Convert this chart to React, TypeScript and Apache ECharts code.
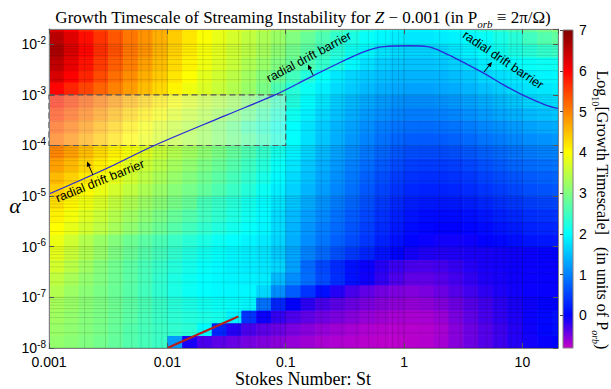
import React, { useEffect, useRef } from "react";
import * as echarts from "echarts";

// ---- axis extents ----
const ST_MIN = 0.001;
const ST_MAX = 20;
const ALPHA_MIN = 1e-8;
const ALPHA_MAX = 0.02;

// ---- field cell grid (log10 spacing) ----
const stLogCellStart = -3;
const stLogCellStep = 0.125;
const alphaLogCellStart = -8;
const alphaLogCellStep = 0.25;

// log10(growth timescale); rows bottom (alpha=1e-8) -> top
const growthRows: number[][] = [
  [3.15, 3.08, 3.0, 2.9, 2.78, 2.65, 2.55, 2.45, 1.2, -0.1, -0.3, -0.38, -0.43, -0.48, -0.52, -0.56, -0.6, -0.64, -0.68, -0.7, -0.72, -0.74, -0.75, -0.75, -0.74, -0.72, -0.66, -0.55, -0.45, -0.35, -0.25, -0.15, -0.08, -0.03, 0.0],
  [3.2, 3.12, 3.03, 2.93, 2.8, 2.66, 2.55, 2.46, 2.38, 2.32, 2.0, 0.3, -0.15, -0.3, -0.38, -0.44, -0.5, -0.55, -0.6, -0.64, -0.67, -0.7, -0.72, -0.73, -0.73, -0.72, -0.67, -0.55, -0.45, -0.35, -0.25, -0.15, -0.06, 0.04, 0.1],
  [3.25, 3.15, 3.05, 2.95, 2.83, 2.7, 2.56, 2.44, 2.34, 2.26, 2.2, 2.15, 1.9, 0.4, -0.05, -0.22, -0.32, -0.4, -0.46, -0.5, -0.55, -0.6, -0.64, -0.67, -0.68, -0.67, -0.62, -0.5, -0.4, -0.3, -0.2, -0.12, -0.04, 0.05, 0.12],
  [3.3, 3.2, 3.08, 2.98, 2.86, 2.72, 2.58, 2.44, 2.3, 2.2, 2.12, 2.06, 2.02, 1.95, 0.9, 0.3, 0.0, -0.18, -0.3, -0.38, -0.44, -0.5, -0.55, -0.58, -0.6, -0.58, -0.53, -0.45, -0.36, -0.27, -0.18, -0.1, -0.05, -0.01, 0.0],
  [3.4, 3.22, 3.08, 2.95, 2.82, 2.68, 2.52, 2.35, 2.2, 2.08, 2.0, 1.96, 1.95, 1.95, 1.7, 1.1, 0.72, 0.4, 0.1, -0.15, -0.3, -0.4, -0.47, -0.51, -0.53, -0.5, -0.44, -0.35, -0.27, -0.19, -0.12, -0.07, -0.04, -0.03, -0.03],
  [3.5, 3.32, 3.15, 3.0, 2.85, 2.7, 2.55, 2.38, 2.22, 2.1, 2.0, 1.95, 1.92, 1.9, 1.85, 1.45, 1.1, 0.85, 0.58, 0.35, 0.12, -0.06, -0.2, -0.32, -0.4, -0.4, -0.36, -0.28, -0.2, -0.13, -0.09, -0.06, -0.04, -0.03, -0.03],
  [3.65, 3.45, 3.25, 3.05, 2.88, 2.72, 2.56, 2.42, 2.28, 2.15, 2.04, 1.96, 1.9, 1.86, 1.82, 1.68, 1.25, 0.82, 0.55, 0.32, 0.12, -0.04, -0.15, -0.24, -0.3, -0.31, -0.28, -0.22, -0.15, -0.1, -0.07, -0.05, -0.04, -0.03, -0.03],
  [3.8, 3.58, 3.38, 3.18, 2.98, 2.82, 2.66, 2.52, 2.38, 2.24, 2.12, 2.02, 1.94, 1.88, 1.8, 1.6, 1.3, 1.02, 0.82, 0.62, 0.44, 0.28, 0.14, 0.02, -0.08, -0.13, -0.14, -0.13, -0.11, -0.1, -0.08, -0.06, -0.04, -0.02, 0.0],
  [3.85, 3.62, 3.4, 3.2, 3.02, 2.86, 2.72, 2.58, 2.45, 2.32, 2.2, 2.09, 2.0, 1.92, 1.84, 1.66, 1.36, 1.1, 0.92, 0.75, 0.58, 0.42, 0.26, 0.12, 0.02, -0.04, -0.07, -0.07, -0.05, -0.01, 0.05, 0.1, 0.15, 0.17, 0.18],
  [4.0, 3.82, 3.64, 3.47, 3.3, 3.13, 2.97, 2.82, 2.67, 2.52, 2.38, 2.25, 2.14, 2.04, 1.93, 1.72, 1.4, 1.16, 0.98, 0.82, 0.65, 0.48, 0.32, 0.18, 0.08, 0.02, 0.0, 0.0, 0.02, 0.07, 0.14, 0.2, 0.25, 0.28, 0.3],
  [4.1, 3.92, 3.74, 3.57, 3.41, 3.25, 3.1, 2.95, 2.8, 2.65, 2.5, 2.36, 2.24, 2.11, 1.96, 1.72, 1.45, 1.24, 1.06, 0.88, 0.7, 0.54, 0.38, 0.24, 0.14, 0.08, 0.06, 0.07, 0.1, 0.16, 0.24, 0.3, 0.35, 0.38, 0.4],
  [4.25, 4.07, 3.88, 3.7, 3.53, 3.37, 3.22, 3.08, 2.94, 2.8, 2.55, 2.42, 2.3, 2.15, 1.98, 1.8, 1.55, 1.34, 1.15, 0.97, 0.8, 0.62, 0.45, 0.31, 0.22, 0.18, 0.17, 0.19, 0.23, 0.3, 0.37, 0.43, 0.48, 0.52, 0.55],
  [4.4, 4.22, 4.02, 3.84, 3.66, 3.5, 3.35, 3.2, 3.06, 2.92, 2.77, 2.61, 2.45, 2.28, 2.08, 1.87, 1.64, 1.42, 1.23, 1.05, 0.86, 0.68, 0.52, 0.39, 0.3, 0.26, 0.26, 0.28, 0.33, 0.4, 0.47, 0.54, 0.6, 0.64, 0.67],
  [4.55, 4.37, 4.17, 3.98, 3.8, 3.63, 3.47, 3.32, 3.17, 3.02, 2.87, 2.71, 2.55, 2.38, 2.18, 1.96, 1.72, 1.5, 1.3, 1.12, 0.93, 0.76, 0.6, 0.47, 0.38, 0.35, 0.35, 0.38, 0.43, 0.5, 0.58, 0.65, 0.7, 0.75, 0.78],
  [4.75, 4.56, 4.35, 4.14, 3.95, 3.77, 3.6, 3.44, 3.28, 3.13, 2.98, 2.82, 2.65, 2.47, 2.28, 2.05, 1.8, 1.56, 1.36, 1.18, 1.0, 0.84, 0.69, 0.57, 0.48, 0.45, 0.45, 0.48, 0.54, 0.62, 0.7, 0.78, 0.83, 0.87, 0.9],
  [4.95, 4.75, 4.52, 4.3, 4.1, 3.92, 3.74, 3.56, 3.4, 3.26, 3.12, 2.95, 2.78, 2.6, 2.4, 2.15, 1.9, 1.66, 1.45, 1.27, 1.1, 0.94, 0.8, 0.68, 0.6, 0.58, 0.58, 0.62, 0.68, 0.75, 0.82, 0.9, 0.95, 1.0, 1.02],
  [5.1, 4.9, 4.66, 4.44, 4.22, 4.03, 3.85, 3.67, 3.52, 3.38, 3.24, 3.08, 2.9, 2.72, 2.52, 2.28, 2.02, 1.76, 1.55, 1.36, 1.18, 1.02, 0.89, 0.78, 0.72, 0.7, 0.72, 0.76, 0.82, 0.9, 0.98, 1.05, 1.1, 1.15, 1.18],
  [5.3, 5.08, 4.85, 4.6, 4.36, 4.14, 3.93, 3.73, 3.57, 3.42, 3.26, 3.06, 2.85, 2.6, 2.4, 2.2, 2.0, 1.78, 1.58, 1.4, 1.25, 1.1, 0.98, 0.9, 0.85, 0.84, 0.86, 0.9, 0.97, 1.05, 1.12, 1.2, 1.27, 1.32, 1.35],
  [5.52, 5.3, 5.07, 4.82, 4.58, 4.36, 4.15, 3.94, 3.74, 3.57, 3.42, 3.26, 3.06, 2.85, 2.6, 2.35, 2.1, 1.88, 1.68, 1.5, 1.35, 1.2, 1.1, 1.02, 0.98, 0.98, 1.0, 1.05, 1.12, 1.2, 1.3, 1.38, 1.45, 1.5, 1.55],
  [5.75, 5.52, 5.28, 5.04, 4.82, 4.6, 4.36, 4.14, 3.93, 3.73, 3.57, 3.42, 3.26, 3.05, 2.8, 2.5, 2.25, 2.0, 1.8, 1.6, 1.45, 1.32, 1.22, 1.15, 1.12, 1.12, 1.14, 1.2, 1.27, 1.35, 1.45, 1.55, 1.65, 1.72, 1.75],
  [5.98, 5.72, 5.47, 5.22, 4.99, 4.77, 4.52, 4.3, 4.08, 3.88, 3.72, 3.56, 3.4, 3.2, 2.95, 2.6, 2.3, 2.08, 1.88, 1.72, 1.58, 1.45, 1.36, 1.3, 1.27, 1.27, 1.3, 1.35, 1.42, 1.5, 1.6, 1.72, 1.78, 1.82, 1.85],
  [6.3, 6.0, 5.72, 5.42, 5.14, 4.9, 4.63, 4.41, 4.2, 3.99, 3.78, 3.62, 3.46, 3.26, 3.05, 2.8, 2.52, 2.27, 2.02, 1.82, 1.66, 1.55, 1.48, 1.42, 1.4, 1.4, 1.42, 1.48, 1.55, 1.68, 1.75, 1.82, 1.88, 1.92, 1.95],
  [6.5, 6.18, 5.85, 5.55, 5.27, 5.02, 4.75, 4.52, 4.3, 4.09, 3.88, 3.72, 3.56, 3.36, 3.2, 3.0, 2.8, 2.6, 2.4, 2.2, 1.95, 1.75, 1.62, 1.55, 1.52, 1.52, 1.55, 1.62, 1.72, 1.85, 1.95, 2.0, 2.05, 2.08, 2.1],
  [6.65, 6.3, 5.95, 5.63, 5.37, 5.08, 4.85, 4.58, 4.36, 4.15, 3.93, 3.77, 3.61, 3.46, 3.3, 3.1, 2.9, 2.7, 2.5, 2.3, 2.1, 1.95, 1.8, 1.7, 1.65, 1.65, 1.7, 1.8, 1.9, 2.0, 2.1, 2.2, 2.3, 2.4, 2.45],
  [6.55, 6.25, 5.9, 5.6, 5.33, 5.08, 4.85, 4.62, 4.4, 4.19, 3.98, 3.82, 3.66, 3.5, 3.35, 3.2, 3.0, 2.8, 2.6, 2.4, 2.2, 2.05, 1.95, 1.85, 1.82, 1.82, 1.85, 1.9, 1.98, 2.05, 2.18, 2.3, 2.5, 2.65, 2.75],
  [6.3, 6.05, 5.75, 5.5, 5.27, 5.06, 4.88, 4.66, 4.45, 4.23, 4.02, 3.86, 3.75, 3.6, 3.45, 3.3, 3.15, 3.0, 2.8, 2.6, 2.4, 2.2, 2.05, 1.95, 1.9, 1.9, 1.95, 2.05, 2.15, 2.25, 2.4, 2.55, 2.75, 2.9, 3.0],
];

// radial drift barrier (blue curve)
const barrierSt = [0.001, 0.00316, 0.00776, 0.0316, 0.0813, 0.126, 0.24, 0.457, 0.676, 1.12, 1.58, 2.19, 3.24, 4.79, 6.92, 10, 15.8, 20];
const barrierAlpha = [1.1e-5, 3.63e-5, 1.0e-4, 3.98e-4, 1.0e-3, 1.66e-3, 3.55e-3, 7.1e-3, 9.0e-3, 9.33e-3, 9.0e-3, 6.76e-3, 4.27e-3, 2.63e-3, 1.58e-3, 1.0e-3, 6.3e-4, 5.4e-4];

// red segment
const redSt = [0.01, 0.0398];
const redAlpha = [1e-8, 4.17e-8];

// dashed box
const boxSt = [0.001, 0.1];
const boxAlpha = [1e-4, 1e-3];

// colour map
const CB_MIN = -0.8;
const CB_MAX = 7;
const cmapValues = [-0.8, -0.4, 0, 1, 2, 3, 4, 5, 6, 7];
const cmapColors = ["#c800c8", "#6000e6", "#0000ff", "#0080ff", "#00ffff", "#80ff80", "#ffff00", "#ff8000", "#ff0000", "#800000"];

const SERIF = "'Liberation Serif', 'Times New Roman', serif";
const SANS = "'Liberation Sans', Arial, Helvetica, sans-serif";

function hexRgb(c: string) {
  return [parseInt(c.slice(1, 3), 16), parseInt(c.slice(3, 5), 16), parseInt(c.slice(5, 7), 16)];
}
function colorOf(v: number) {
  if (v <= cmapValues[0]) return cmapColors[0];
  const n = cmapValues.length;
  if (v >= cmapValues[n - 1]) return cmapColors[n - 1];
  for (let i = 0; i < n - 1; i++) {
    if (v >= cmapValues[i] && v <= cmapValues[i + 1]) {
      const t = (v - cmapValues[i]) / (cmapValues[i + 1] - cmapValues[i]);
      const a = hexRgb(cmapColors[i]);
      const b = hexRgb(cmapColors[i + 1]);
      const r = a.map((x, k) => Math.round(x + (b[k] - x) * t));
      return `rgb(${r[0]},${r[1]},${r[2]})`;
    }
  }
  return cmapColors[0];
}

function buildField() {
  const out: number[][] = [];
  growthRows.forEach((row, j) => {
    const y0 = Math.pow(10, alphaLogCellStart + j * alphaLogCellStep);
    const y1 = Math.min(Math.pow(10, alphaLogCellStart + (j + 1) * alphaLogCellStep), ALPHA_MAX);
    row.forEach((v, k) => {
      const x0 = Math.pow(10, stLogCellStart + k * stLogCellStep);
      const x1 = Math.min(Math.pow(10, stLogCellStart + (k + 1) * stLogCellStep), ST_MAX);
      if (x0 < ST_MAX && y0 < ALPHA_MAX) out.push([x0, x1, y0, y1, v]);
    });
  });
  return out;
}

function logGridValues(minExp: number, maxExp: number, maxVal: number) {
  const vals: number[] = [];
  for (let e = minExp; e <= maxExp; e++) {
    for (let m = 1; m <= 9; m++) {
      const v = m * Math.pow(10, e);
      if (v <= maxVal * 1.0001) vals.push(v);
    }
  }
  return vals;
}

function isMajor(v: number) {
  const l = Math.log10(v);
  return Math.abs(l - Math.round(l)) < 1e-6;
}

function arrow(x1: number, y1: number, x2: number, y2: number) {
  const dx = x2 - x1, dy = y2 - y1;
  const L = Math.hypot(dx, dy);
  const ux = dx / L, uy = dy / L;
  const hl = 5, hw = 2.3;
  const bx = x2 - ux * hl, by = y2 - uy * hl;
  return {
    type: "group",
    silent: true,
    z: 100,
    children: [
      { type: "line", z: 100, shape: { x1, y1, x2: bx, y2: by }, style: { stroke: "#000", lineWidth: 1 } },
      { type: "polygon", z: 100, shape: { points: [[x2, y2], [bx - uy * hw, by + ux * hw], [bx + uy * hw, by - ux * hw]] }, style: { fill: "#000" } },
    ],
  };
}

export default function App() {
  const ref = useRef<HTMLDivElement>(null);
  useEffect(() => {
    if (!ref.current) return;
    const chart = echarts.init(ref.current, undefined, { renderer: "svg" });

    const axisLineStyle = { color: "#808080", width: 1 };
    const mainX = {
      type: "log", logBase: 10, min: ST_MIN, max: ST_MAX, gridIndex: 0, z: 20,
      axisLine: { show: true, onZero: false, lineStyle: axisLineStyle },
      axisTick: { show: true, inside: true, length: 5, lineStyle: { color: "#555" } },
      splitLine: { show: false },
    };
    const mainY = {
      type: "log", logBase: 10, min: ALPHA_MIN, max: ALPHA_MAX, gridIndex: 0, z: 20,
      axisLine: { show: true, onZero: false, lineStyle: axisLineStyle },
      axisTick: { show: true, inside: true, length: 5, lineStyle: { color: "#555" } },
      splitLine: { show: false },
    };

    const stops = cmapValues.map((v, i) => ({ offset: (v - CB_MIN) / (CB_MAX - CB_MIN), color: cmapColors[i] }));

    const option: any = {
      animation: false,
      backgroundColor: "#ffffff",
      grid: [
        { left: 49, top: 29, width: 509, height: 319 },
        { left: 563, top: 30, width: 10, height: 318 },
      ],
      xAxis: [
        {
          ...mainX, position: "bottom",
          axisLabel: {
            show: true, fontSize: 14, color: "#000", fontFamily: SANS, margin: 7, showMaxLabel: false,
            formatter: (v: number) => {
              const e = Math.round(Math.log10(v));
              return e < 0 ? Math.pow(10, e).toFixed(-e) : String(Math.pow(10, e));
            },
          },
        },
        { ...mainX, position: "top", axisLabel: { show: false } },
        { type: "value", gridIndex: 1, min: 0, max: 1, show: false },
      ],
      yAxis: [
        {
          ...mainY, position: "left",
          axisLabel: {
            show: true, margin: 3, showMaxLabel: false,
            formatter: (v: number) => `{b|10}{s|${Math.round(Math.log10(v))}}`,
            rich: {
              b: { fontSize: 14, fontFamily: SANS, color: "#000", lineHeight: 18 },
              s: { fontSize: 10, fontFamily: SANS, color: "#000", verticalAlign: "top", lineHeight: 8 },
            },
          },
        },
        { ...mainY, position: "right", axisLabel: { show: false } },
        {
          type: "value", gridIndex: 1, min: CB_MIN, max: CB_MAX, splitNumber: 8, position: "right", z: 20,
          axisLine: { show: false },
          axisTick: { show: true, inside: true, length: 3, lineStyle: { color: "#444" } },
          axisLabel: { show: true, showMinLabel: false, fontSize: 14, color: "#000", fontFamily: SANS, margin: 6 },
          splitLine: { show: false },
        },
      ],
      series: [
        {
          name: "growth", type: "custom", xAxisIndex: 0, yAxisIndex: 0, z: 1, clip: true, silent: true,
          encode: { x: [0, 1], y: [2, 3] },
          data: buildField(),
          renderItem: (params: any, api: any) => {
            const p0 = api.coord([api.value(0), api.value(3)]);
            const p1 = api.coord([api.value(1), api.value(2)]);
            return {
              type: "rect",
              shape: { x: p0[0], y: p0[1], width: p1[0] - p0[0] + 0.6, height: p1[1] - p0[1] + 0.6 },
              style: { fill: colorOf(api.value(4)) },
            };
          },
        },
        {
          name: "vgrid", type: "custom", xAxisIndex: 0, yAxisIndex: 0, z: 2, silent: true,
          encode: { x: 0, y: 1 },
          data: logGridValues(-3, 1, ST_MAX).map((v) => [v, ALPHA_MIN]),
          renderItem: (params: any, api: any) => {
            const v = api.value(0);
            const p = api.coord([v, ALPHA_MIN]);
            const cs = params.coordSys;
            return {
              type: "line",
              shape: { x1: p[0], y1: cs.y, x2: p[0], y2: cs.y + cs.height },
              style: { stroke: isMajor(v) ? "rgba(0,0,0,0.2)" : "rgba(0,0,0,0.12)", lineWidth: 1 },
            };
          },
        },
        {
          name: "hgrid", type: "custom", xAxisIndex: 0, yAxisIndex: 0, z: 2, silent: true,
          encode: { x: 0, y: 1 },
          data: logGridValues(-8, -2, ALPHA_MAX).map((v) => [ST_MIN, v]),
          renderItem: (params: any, api: any) => {
            const v = api.value(1);
            const p = api.coord([ST_MIN, v]);
            const cs = params.coordSys;
            return {
              type: "line",
              shape: { x1: cs.x, y1: p[1], x2: cs.x + cs.width, y2: p[1] },
              style: { stroke: isMajor(v) ? "rgba(0,0,0,0.2)" : "rgba(0,0,0,0.12)", lineWidth: 1 },
            };
          },
        },
        {
          name: "box", type: "custom", xAxisIndex: 0, yAxisIndex: 0, z: 3, silent: true,
          encode: { x: [0, 1], y: [2, 3] },
          data: [[boxSt[0], boxSt[1], boxAlpha[0], boxAlpha[1]]],
          renderItem: (params: any, api: any) => {
            const p0 = api.coord([api.value(0), api.value(3)]);
            const p1 = api.coord([api.value(1), api.value(2)]);
            return {
              type: "rect",
              shape: { x: p0[0], y: p0[1], width: p1[0] - p0[0], height: p1[1] - p0[1] },
              style: { fill: "rgba(255,255,255,0.3)", stroke: "#555", lineWidth: 1.2, lineDash: [6, 3.5] },
            };
          },
        },
        {
          name: "radial drift barrier", type: "line", xAxisIndex: 0, yAxisIndex: 0, z: 5, silent: true,
          data: barrierSt.map((s, i) => [s, barrierAlpha[i]]),
          showSymbol: false, symbol: "none", smooth: 0.35,
          lineStyle: { color: "#2a2ad8", width: 1.3 },
        },
        {
          name: "red", type: "line", xAxisIndex: 0, yAxisIndex: 0, z: 5, silent: true,
          data: redSt.map((s, i) => [s, redAlpha[i]]),
          showSymbol: false, symbol: "none",
          lineStyle: { color: "#b81c1c", width: 2.2 },
        },
        {
          name: "colorbar", type: "custom", xAxisIndex: 2, yAxisIndex: 2, z: 1, silent: true,
          encode: { x: [0, 1], y: [2, 3] },
          data: [[0, 1, CB_MIN, CB_MAX]],
          renderItem: (params: any, api: any) => {
            const p0 = api.coord([api.value(0), api.value(3)]);
            const p1 = api.coord([api.value(1), api.value(2)]);
            return {
              type: "rect",
              shape: { x: p0[0], y: p0[1], width: p1[0] - p0[0], height: p1[1] - p0[1] },
              style: {
                fill: { type: "linear", x: 0, y: 1, x2: 0, y2: 0, colorStops: stops },
                stroke: "#808080", lineWidth: 1,
              },
            };
          },
        },
      ],
      graphic: [
        {
          type: "text", x: 303, y: 17, silent: true, z: 100,
          style: {
            text: "Growth Timescale of Streaming Instability for {i|Z} − 0.001 (in P{sub|orb} ≡ 2π/Ω)",
            align: "center", verticalAlign: "middle", fill: "#000",
            fontFamily: SERIF, fontSize: 17,
            rich: {
              i: { fontFamily: SERIF, fontSize: 17, fontStyle: "italic", fill: "#000" },
              sub: { fontFamily: SERIF, fontSize: 11, fontStyle: "italic", fill: "#000", verticalAlign: "bottom", lineHeight: 12, padding: [0, 0, -4, 0] },
            },
          },
        },
        {
          type: "text", x: 303, y: 379, silent: true, z: 100,
          style: { text: "Stokes Number: St", align: "center", verticalAlign: "middle", fill: "#000", fontFamily: SERIF, fontSize: 18 },
        },
        {
          type: "text", x: 15, y: 205, silent: true, z: 100,
          style: { text: "α", align: "center", verticalAlign: "middle", fill: "#000", fontFamily: SERIF, fontSize: 22, fontStyle: "italic" },
        },
        {
          type: "text", x: 602, y: 210, rotation: -Math.PI / 2, silent: true, z: 100,
          style: {
            text: "Log{sub|10}[Growth Timescale]   (in units of P{subi|orb})",
            align: "center", verticalAlign: "middle", fill: "#000", fontFamily: SERIF, fontSize: 16,
            rich: {
              sub: { fontFamily: SERIF, fontSize: 10, fill: "#000", verticalAlign: "bottom", lineHeight: 10, padding: [0, 0, -4, 0] },
              subi: { fontFamily: SERIF, fontSize: 10, fontStyle: "italic", fill: "#000", verticalAlign: "bottom", lineHeight: 10, padding: [0, 0, -4, 0] },
            },
          },
        },
        {
          type: "text", x: 100, y: 181, rotation: 0.384, silent: true, z: 100,
          style: { text: "radial drift barrier", align: "center", verticalAlign: "middle", fill: "#000", fontFamily: SANS, fontSize: 12.5 },
        },
        {
          type: "text", x: 309, y: 57, rotation: 0.49, silent: true, z: 100,
          style: { text: "radial drift barrier", align: "center", verticalAlign: "middle", fill: "#000", fontFamily: SANS, fontSize: 12.5 },
        },
        {
          type: "text", x: 503, y: 60, rotation: -0.593, silent: true, z: 100,
          style: { text: "radial drift barrier", align: "center", verticalAlign: "middle", fill: "#000", fontFamily: SANS, fontSize: 12.5 },
        },
        arrow(93, 175, 87, 161.5),
        arrow(313, 75, 308, 64.5),
        arrow(484, 72, 492, 62),
      ],
    };

    chart.setOption(option);
    return () => chart.dispose();
  }, []);

  return (
    <div
      ref={ref}
      style={{ position: "absolute", left: 0, top: 0, width: 611, height: 389, background: "#fff" }}
    />
  );
}
